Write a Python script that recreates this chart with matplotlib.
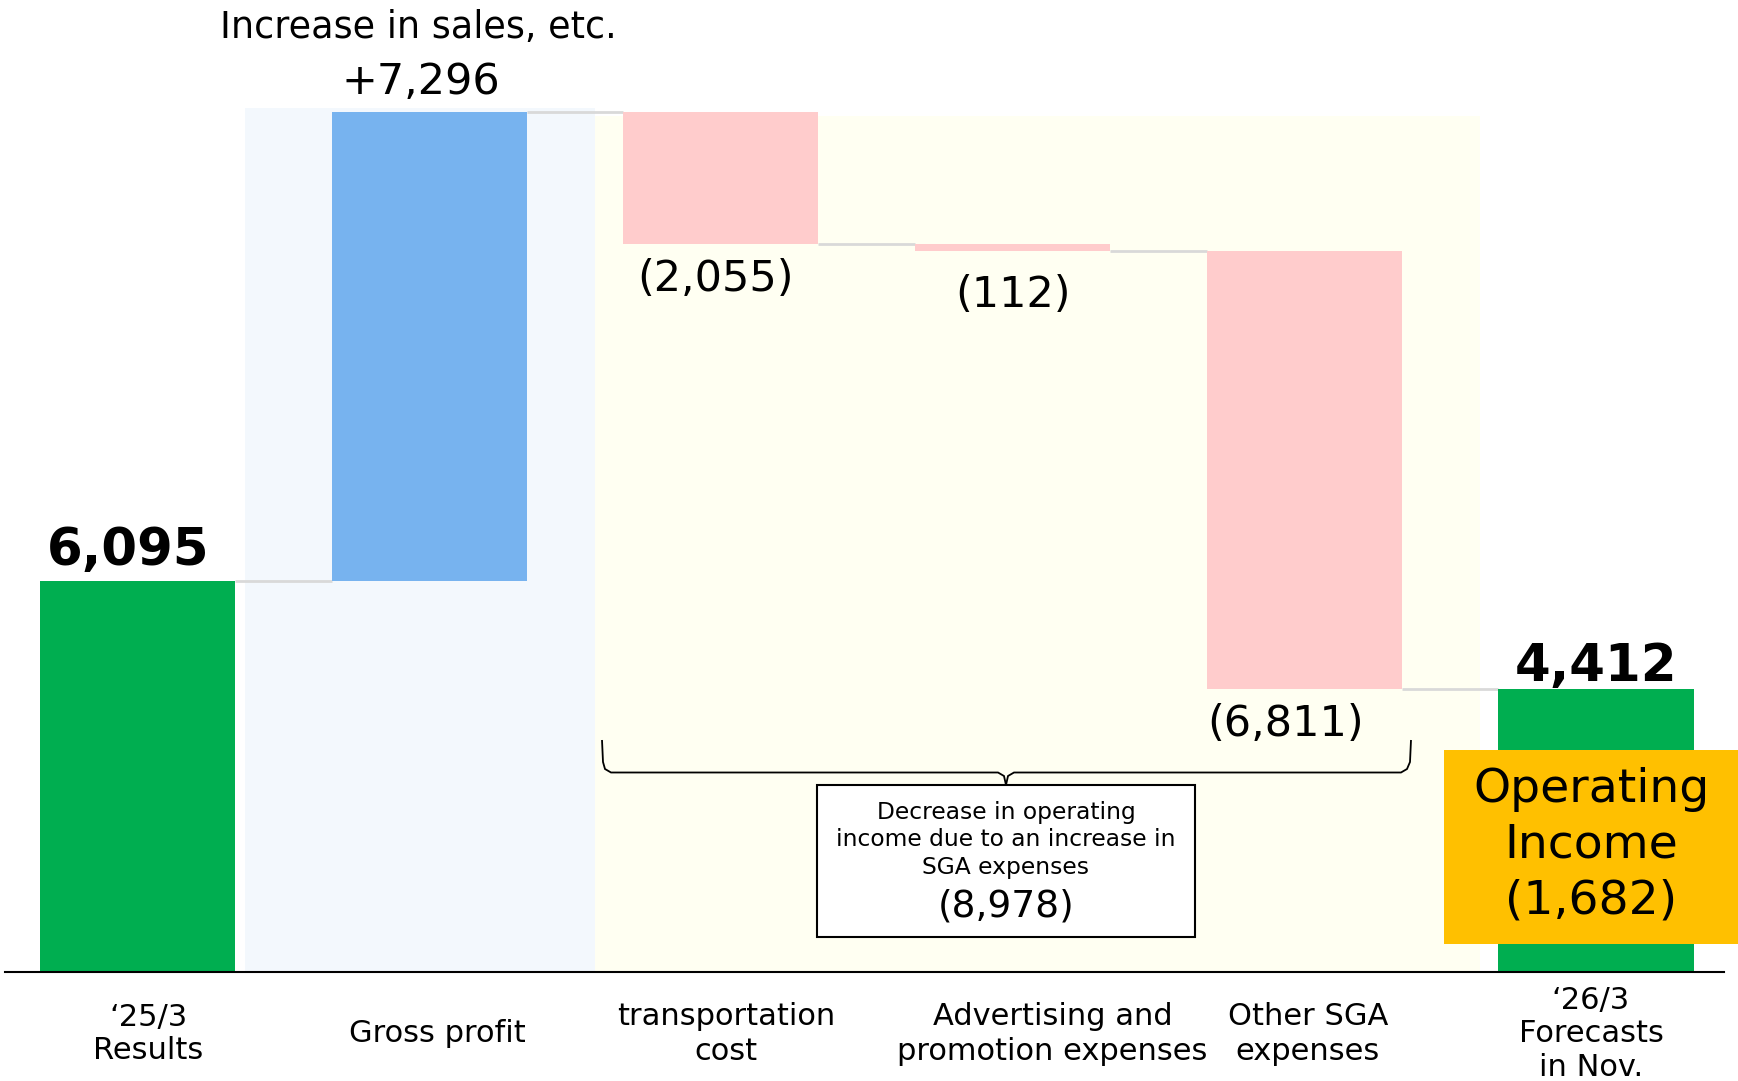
import matplotlib
matplotlib.use("Agg")
import matplotlib.pyplot as plt
from matplotlib.patches import Rectangle
from matplotlib.path import Path
from matplotlib.patches import PathPatch

# ---------------- data ----------------
categories = ['\u201825/3\nResults', 'Gross profit', 'transportation\ncost',
              'Advertising and\npromotion expenses', 'Other SGA\nexpenses',
              '\u201826/3\nForecasts\nin Nov.']
start_value = 6095
deltas = [7296, -2055, -112, -6811]
end_value = 4412
value_labels = ['6,095', '+7,296', '(2,055)', '(112)', '(6,811)', '4,412']
top_note = 'Increase in sales, etc.'
sga_note = 'Decrease in operating\nincome due to an increase in\nSGA expenses'
sga_total = '(8,978)'
op_note = 'Operating\nIncome\n(1,682)'

# ---------------- style ----------------
W, H = 1738, 1081
DPI = 100
GREEN = '#00AE50'
BLUE = '#77B3EF'
PINK = '#FFCCCC'
BG_BLUE = '#F3F8FD'
BG_YEL = '#FFFFF2'
ORANGE = '#FFC000'
CONN = '#D9D9D9'
BAR_W = 0.669

fig = plt.figure(figsize=(W / DPI, H / DPI), dpi=DPI)
ax = fig.add_axes([0, 0, 1, 1])
ax.set_xlim(-0.471, 5.487)
ax.set_ylim(-1698, 15140)
ax.axis('off')

# waterfall geometry from data
levels = [start_value]
for d in deltas:
    levels.append(levels[-1] + d)
bottoms = [0]
heights = [start_value]
colors = [GREEN]
for i, d in enumerate(deltas):
    bottoms.append(min(levels[i], levels[i + 1]))
    heights.append(abs(d))
    colors.append(BLUE if d > 0 else PINK)
bottoms.append(0)
heights.append(end_value)
colors.append(GREEN)
xs = list(range(len(categories)))

# background bands
peak = levels[1]
ax.add_patch(Rectangle((0.369, 0), 1.569 - 0.369, peak + 60, facecolor=BG_BLUE,
                       edgecolor='none', zorder=0))
ax.add_patch(Rectangle((1.569, 0), 4.602 - 1.569, peak - 60, facecolor=BG_YEL,
                       edgecolor='none', zorder=0))

ax.bar(xs, heights, bottom=bottoms, width=BAR_W, color=colors, zorder=2)

# connectors
for i in range(len(xs) - 1):
    ax.plot([xs[i] + BAR_W / 2, xs[i + 1] - BAR_W / 2], [levels[i], levels[i]],
            color=CONN, lw=2, zorder=1, solid_capstyle='butt')

ax.axhline(0, xmin=0.003, xmax=0.992, color='black', lw=1.5, zorder=3)

PT = 72 / DPI  # px -> pt

def lab(x, y, txt, dx_px, dy_px, size, weight='normal', va='baseline'):
    ax.annotate(txt, (x, y), xytext=(dx_px * PT, dy_px * PT), textcoords='offset points',
                ha='center', va=va, fontsize=size, fontweight=weight, zorder=5)

tops = [b + h for b, h in zip(bottoms, heights)]
# value labels
lab(xs[0], tops[0], value_labels[0], -9, 16, 37, 'bold')
lab(xs[1], tops[1], value_labels[1], -8.5, 18, 31)
lab(xs[1], tops[1], top_note, -10.5, 74.5, 26.3)
lab(xs[2], bottoms[2], value_labels[2], -5.5, -46.5, 31)
lab(xs[3], bottoms[3], value_labels[3], 0, -56, 31)
lab(xs[4], bottoms[4], value_labels[4], -18.6, -47, 31)
lab(xs[5], tops[5], value_labels[5], 0, 8, 37, 'bold')

# category labels
cat_dx = [11, 8.5, 5.5, 40, 3.5, -5]
cat_ls = [1.2, 1.2, 1.27, 1.27, 1.27, 1.18]
for x, c, dx, ls in zip(xs, categories, cat_dx, cat_ls):
    ax.annotate(c, (x, 0), xytext=(dx * PT, -62 * PT), textcoords='offset points',
                ha='center', va='center', fontsize=22, linespacing=ls,
                annotation_clip=False)

# ---------------- decorations in pixel coords ----------------
deco = fig.add_axes([0, 0, 1, 1], zorder=10)
deco.set_xlim(0, W)
deco.set_ylim(H, 0)
deco.axis('off')
deco.patch.set_alpha(0)

# brace
pts = [(602, 740), (603, 762), (605, 769), (611, 772.5), (998, 772.5), (1004, 776),
       (1006, 785), (1008, 776), (1014, 772.5), (1401, 772.5), (1407, 769),
       (1410, 762), (1411, 740)]
deco.add_patch(PathPatch(Path(pts), facecolor='none', edgecolor='black', lw=1.3))

# SGA box
deco.add_patch(Rectangle((817, 785), 378, 152, facecolor='white', edgecolor='black', lw=1.5))
deco.text(1006, 840, sga_note, ha='center', va='center', fontsize=16.8, linespacing=1.24)
deco.text(1006, 906, sga_total, ha='center', va='center', fontsize=27)

# operating income box
deco.add_patch(Rectangle((1444, 750), 300, 194, facecolor=ORANGE, edgecolor='none'))
deco.text(1591, 845, op_note, ha='center', va='center', fontsize=34, linespacing=1.3)

fig.savefig('out.png', dpi=DPI)
